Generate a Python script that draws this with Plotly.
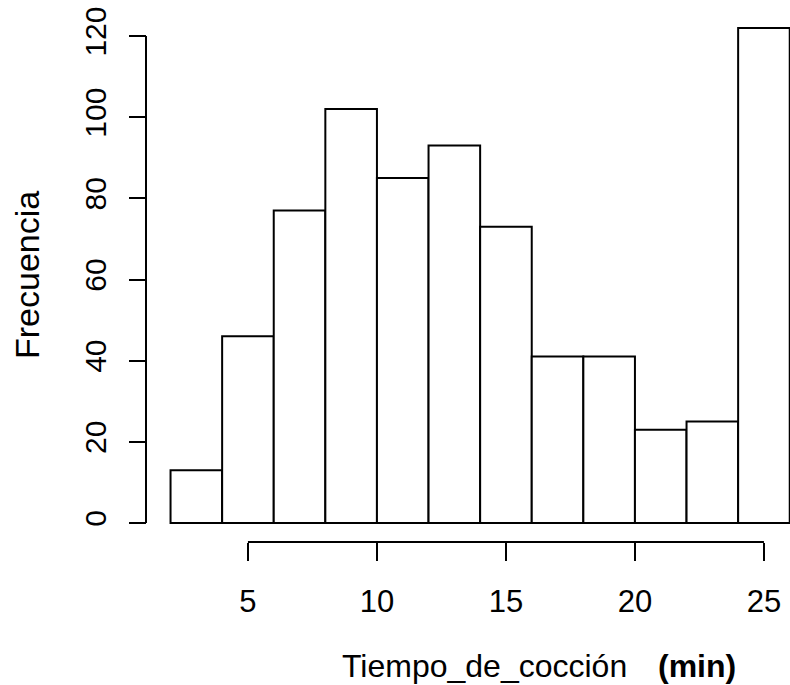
import plotly.graph_objects as go

# Histogram of cooking times: bin edges (min) and frequency per bin
bin_edges = [2, 4, 6, 8, 10, 12, 14, 16, 18, 20, 22, 24, 26]
counts = [13, 46, 77, 102, 85, 93, 73, 41, 41, 23, 25, 122]
x_ticks = [5, 10, 15, 20, 25]
y_ticks = [0, 20, 40, 60, 80, 100, 120]

centers = [(a + b) / 2 for a, b in zip(bin_edges[:-1], bin_edges[1:])]
widths = [b - a for a, b in zip(bin_edges[:-1], bin_edges[1:])]

W, H = 790, 685
FONT = "Liberation Sans, Arial, sans-serif"

fig = go.Figure(
    go.Bar(
        x=centers,
        y=counts,
        width=widths,
        marker=dict(color="white", line=dict(color="black", width=2)),
        hoverinfo="x+y",
    )
)

x_axis_pos = 1 - 542 / H   # paper position of the detached x axis
y_axis_pos = 146 / W       # paper position of the detached y axis

fig.update_layout(
    width=W,
    height=H,
    margin=dict(l=0, r=0, t=0, b=0),
    paper_bgcolor="white",
    plot_bgcolor="white",
    showlegend=False,
    font=dict(family=FONT, color="black"),
    xaxis=dict(
        range=[-4.61, 26.01],
        anchor="free",
        position=x_axis_pos,
        tickvals=x_ticks,
        ticks="outside",
        ticklen=18,
        tickwidth=2,
        tickcolor="black",
        ticklabelstandoff=14,
        tickfont=dict(size=31, family=FONT),
        showgrid=False,
        zeroline=False,
        showline=False,
    ),
    yaxis=dict(
        range=[-39.92, 128.88],
        anchor="free",
        position=y_axis_pos,
        tickvals=y_ticks,
        tickangle=-90,
        ticks="outside",
        ticklen=17,
        tickwidth=2,
        tickcolor="black",
        ticklabelstandoff=11,
        tickfont=dict(size=30, family=FONT),
        showgrid=False,
        zeroline=False,
        showline=False,
    ),
    shapes=[
        # axis lines spanning only the labelled tick range
        dict(type="line", xref="x", yref="paper", x0=x_ticks[0], x1=x_ticks[-1],
             y0=x_axis_pos, y1=x_axis_pos, line=dict(color="black", width=2)),
        dict(type="line", xref="paper", yref="y", x0=y_axis_pos, x1=y_axis_pos,
             y0=y_ticks[0], y1=y_ticks[-1], line=dict(color="black", width=2)),
    ],
    annotations=[
        dict(text="Tiempo_de_cocción", x=484 / W, y=1 - 666 / H, xref="paper", yref="paper",
             xanchor="center", yanchor="middle",
             showarrow=False, font=dict(size=32, family=FONT)),
        dict(text="<b>(min)</b>", x=697 / W, y=1 - 666 / H, xref="paper", yref="paper",
             xanchor="center", yanchor="middle",
             showarrow=False, font=dict(size=32, family=FONT)),
        dict(text="Frecuencia", x=27 / W, y=1 - 275 / H, xref="paper", yref="paper",
             xanchor="center", yanchor="middle",
             textangle=-90, showarrow=False, font=dict(size=34, family=FONT)),
    ],
)

fig.write_html("out.html")
